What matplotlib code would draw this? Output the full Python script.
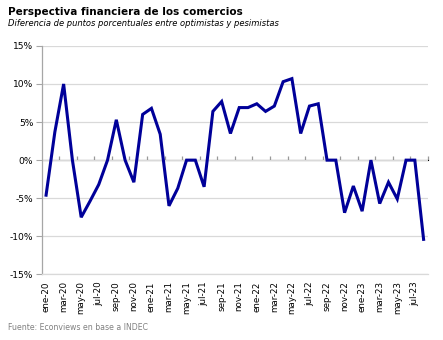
import matplotlib
matplotlib.use("Agg")
import matplotlib.pyplot as plt
import numpy as np

# Monthly balance (optimists minus pessimists), Jan-2020 to Aug-2023, in %
months = ["ene-20", "feb-20", "mar-20", "abr-20", "may-20", "jun-20", "jul-20", "ago-20",
          "sep-20", "oct-20", "nov-20", "dic-20", "ene-21", "feb-21", "mar-21", "abr-21",
          "may-21", "jun-21", "jul-21", "ago-21", "sep-21", "oct-21", "nov-21", "dic-21",
          "ene-22", "feb-22", "mar-22", "abr-22", "may-22", "jun-22", "jul-22", "ago-22",
          "sep-22", "oct-22", "nov-22", "dic-22", "ene-23", "feb-23", "mar-23", "abr-23",
          "may-23", "jun-23", "jul-23", "ago-23"]
balance = [-4.6, 3.7, 10.0, 0.0, -7.5, -5.4, -3.2, 0.0,
           5.3, 0.0, -2.9, 6.0, 6.8, 3.4, -6.0, -3.7,
           0.0, 0.0, -3.5, 6.4, 7.7, 3.5, 6.9, 6.9,
           7.4, 6.4, 7.1, 10.3, 10.7, 3.5, 7.1, 7.4,
           0.0, 0.0, -6.9, -3.4, -6.7, 0.0, -5.7, -2.9,
           -5.1, 0.0, 0.0, -10.4]
y_ticks = [-15, -10, -5, 0, 5, 10, 15]

x = np.arange(len(months))

fig = plt.figure(figsize=(4.43, 3.40), dpi=100)
ax = fig.add_axes([0.0941, 0.193, 0.872, 0.672])

ax.plot(x, balance, color="#000099", linewidth=2.2, solid_joinstyle="miter", zorder=3)

ax.set_xlim(-0.5, len(months) - 0.5)
ax.set_ylim(-15, 15)

# y axis
ax.set_yticks(y_ticks)
ax.set_yticklabels([f"{v}%" for v in y_ticks], fontsize=6.6)
ax.tick_params(axis="y", direction="out", length=4, width=0.8, color="#a6a6a6", pad=2)
ax.grid(axis="y", color="#d9d9d9", linewidth=0.9, zorder=0)
ax.set_axisbelow(True)

# x labels every second month, at the bottom of the plot
ax.set_xticks(x[::2])
ax.set_xticklabels(months[::2], rotation=90, fontsize=6.3)
ax.tick_params(axis="x", length=0, pad=5)

for side in ["top", "right"]:
    ax.spines[side].set_visible(False)
ax.spines["left"].set_color("#a6a6a6")
ax.spines["left"].set_linewidth(0.9)
ax.spines["bottom"].set_color("#d9d9d9")
ax.spines["bottom"].set_linewidth(0.9)

# category axis crossing at zero, ticks between every second month
zero_axis = ax.secondary_xaxis(0.5)
zero_axis.set_xticks(np.arange(1.5, len(months), 2))
zero_axis.set_xticklabels([])
zero_axis.tick_params(direction="out", length=3, width=0.9, color="#999999")
zero_axis.spines["bottom"].set_color("#999999")
zero_axis.spines["bottom"].set_linewidth(0.9)

fig.text(8 / 443, 1 - 12 / 340, "Perspectiva financiera de los comercios",
         fontsize=7.5, fontweight="bold", va="center", ha="left")
fig.text(8 / 443, 1 - 24 / 340, "Diferencia de puntos porcentuales entre optimistas y pesimistas",
         fontsize=6.0, style="italic", va="center", ha="left")
fig.text(8 / 443, 1 - 328 / 340, "Fuente: Econviews en base a INDEC",
         fontsize=5.6, color="#808080", va="center", ha="left")

fig.savefig("out.png", dpi=100)
